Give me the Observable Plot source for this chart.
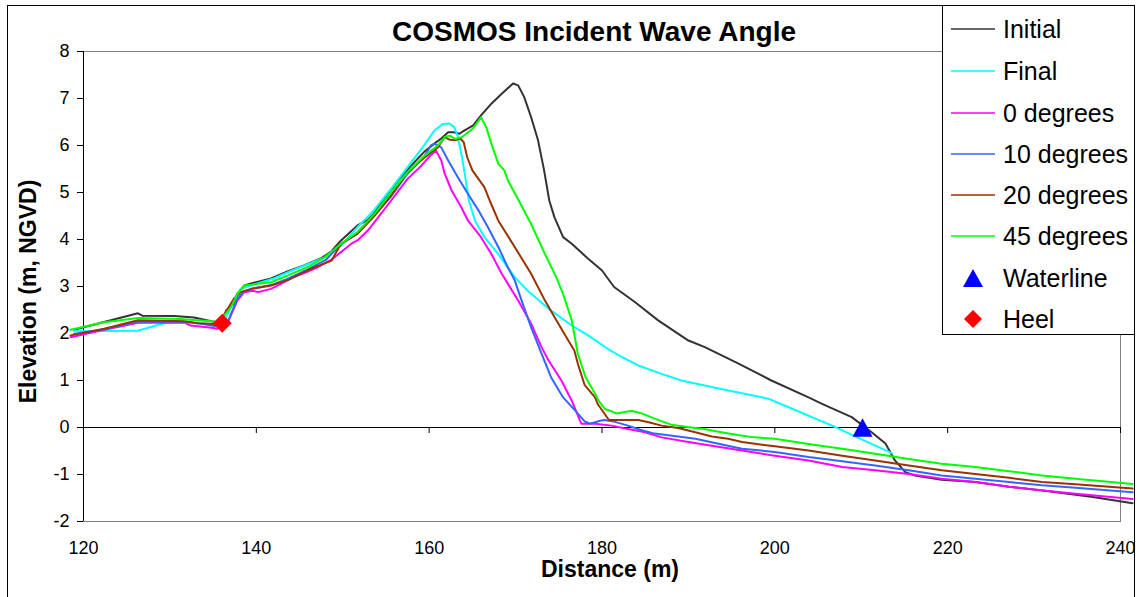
<!DOCTYPE html>
<html><head><meta charset="utf-8">
<script src="https://cdn.jsdelivr.net/npm/d3@7"></script>
<script src="https://cdn.jsdelivr.net/npm/@observablehq/plot@0.6"></script>
<style>
html,body{margin:0;padding:0;background:#fff;overflow:hidden;}
#wrap{position:relative;width:1139px;height:597px;overflow:hidden;font-family:Arial,"Liberation Sans",sans-serif;background:#fff;}
#chart{position:absolute;left:0;top:0;}
#border{position:absolute;left:7px;top:5px;width:1128px;height:700px;border:1px solid #000;box-sizing:border-box;pointer-events:none;}
#legend{position:absolute;left:942px;top:5px;width:193px;height:330px;border:1px solid #000;background:#fff;box-sizing:border-box;}
.item{position:absolute;left:0;height:30px;width:190px;}
.item svg{position:absolute;left:0;top:0;}
.item span{position:absolute;left:60px;top:0;line-height:30px;font-size:25px;color:#000;white-space:nowrap;}
</style>
</head><body>
<div id="wrap"><div id="chart"></div><div id="border"></div><div id="legend"></div></div>
<script>
// ---- data (distance m, elevation m NGVD) ----
const initial = [[118.9,2.08],[126.3,2.43],[126.8,2.38],[130.5,2.37],[132.8,2.34],[134.8,2.26],[136.0,2.23],[136.5,2.49],[137.4,2.64],[137.8,2.85],[138.6,3.02],[139.7,3.08],[141.7,3.17],[143.6,3.32],[145.5,3.45],[147.5,3.6],[148.7,3.75],[149.8,3.98],[151.7,4.30],[152.9,4.42],[153.6,4.55],[154.8,4.87],[156.4,5.26],[157.9,5.57],[159.4,5.86],[160.6,6.04],[161.4,6.15],[162.2,6.28],[162.9,6.28],[163.5,6.25],[164.1,6.32],[165.1,6.43],[166.0,6.64],[167.2,6.89],[168.4,7.10],[169.7,7.32],[170.3,7.28],[171.0,7.03],[171.8,6.60],[172.6,6.11],[173.3,5.47],[173.9,4.83],[174.5,4.47],[175.5,4.05],[176.5,3.91],[178.4,3.59],[180.0,3.34],[181.4,2.99],[183.8,2.67],[186.5,2.28],[190.0,1.85],[191.9,1.71],[195.8,1.36],[199.6,1.00],[203.9,0.64],[205.4,0.51],[208.9,0.22],[211.2,-0.10],[212.8,-0.34],[213.9,-0.70],[215.1,-0.95],[216.2,-1.02],[219.3,-1.11],[223.2,-1.16],[227.1,-1.26],[231.0,-1.34],[236.8,-1.48],[241.4,-1.61]];
const final = [[118.9,2.05],[126.3,2.06],[129.7,2.24],[131.5,2.26],[133.2,2.22],[135.5,2.19],[136.2,2.2],[137.1,2.6],[138.2,2.95],[139.7,3.04],[142.0,3.17],[144.0,3.33],[146.0,3.48],[147.9,3.62],[149.8,3.87],[151.7,4.26],[153.6,4.62],[155.6,5.08],[157.5,5.54],[159.4,6.0],[160.6,6.32],[161.6,6.46],[162.3,6.47],[162.9,6.39],[163.3,6.2],[163.8,5.75],[164.2,5.3],[164.6,4.83],[165.3,4.40],[166.4,4.05],[168.0,3.69],[169.9,3.20],[171.4,2.91],[173.8,2.53],[176.5,2.17],[178.4,1.96],[180.7,1.67],[182.3,1.50],[184.2,1.32],[186.9,1.14],[189.2,1.0],[193.8,0.82],[199.3,0.61],[201.6,0.43],[204.7,0.19],[207.0,0.01],[209.3,-0.19],[212.4,-0.45],[213.6,-0.55]];
const deg0 = [[118.5,1.92],[122.4,2.08],[126.3,2.23],[131.7,2.23],[132.4,2.17],[134.8,2.12],[135.5,2.10],[136.7,2.24],[137.8,2.70],[138.6,2.88],[139.6,2.91],[140.2,2.88],[141.7,2.95],[142.9,3.06],[144.0,3.18],[146.0,3.32],[147.1,3.41],[148.7,3.57],[151.0,3.91],[151.7,3.98],[152.9,4.19],[154.1,4.47],[155.6,4.83],[157.5,5.29],[159.1,5.57],[160.2,5.80],[160.8,5.89],[161.4,5.68],[161.8,5.40],[162.6,5.04],[163.7,4.69],[164.5,4.40],[166.0,4.05],[167.2,3.69],[168.4,3.27],[170.3,2.70],[171.8,2.21],[173.0,1.71],[173.8,1.43],[175.3,1.0],[176.5,0.57],[177.6,0.08],[179.2,0.08],[181.1,0.04],[183.0,-0.03],[185.0,-0.10],[186.9,-0.21],[190.0,-0.31],[193.8,-0.42],[196.2,-0.49],[200.0,-0.60],[203.9,-0.70],[207.8,-0.84],[211.6,-0.91],[215.5,-0.99],[219.3,-1.09],[223.2,-1.16],[227.1,-1.26],[231.0,-1.34],[234.8,-1.41],[241.4,-1.52]];
const deg10 = [[118.9,1.99],[122.4,2.09],[126.3,2.25],[131.7,2.25],[133.5,2.21],[135.5,2.15],[136.7,2.24],[137.8,2.74],[138.6,2.9],[139.7,2.96],[141.7,3.03],[143.6,3.16],[146.0,3.37],[148.0,3.56],[149.8,3.9],[151.7,4.13],[153.6,4.5],[155.6,4.92],[157.5,5.4],[159.4,5.76],[160.2,6.0],[160.6,6.04],[161.4,5.96],[162.2,5.68],[163.3,5.33],[164.5,4.97],[165.7,4.62],[166.8,4.26],[168.0,3.84],[169.1,3.41],[169.9,3.13],[170.7,2.70],[171.8,2.13],[173.0,1.57],[174.1,1.07],[175.5,0.64],[176.8,0.38],[178.0,0.13],[178.6,0.08],[179.9,0.15],[180.3,0.16],[181.5,0.12],[183.0,0.04],[184.6,-0.06],[186.1,-0.13],[188.8,-0.19],[190.8,-0.24],[196.2,-0.45],[200.0,-0.52],[203.9,-0.63],[207.8,-0.72],[211.6,-0.81],[215.5,-0.91],[219.3,-1.02],[223.2,-1.09],[227.1,-1.16],[230.9,-1.23],[234.8,-1.28],[241.4,-1.38]];
const deg20 = [[118.5,1.96],[122.4,2.10],[126.3,2.28],[131.7,2.26],[133.2,2.22],[134.8,2.21],[135.5,2.17],[137.4,2.74],[138.2,2.88],[139.4,2.95],[141.7,3.02],[143.6,3.13],[146.0,3.35],[148.7,3.55],[149.8,3.91],[151.7,4.12],[153.7,4.51],[155.6,4.94],[157.5,5.43],[159.5,5.75],[161.0,5.96],[161.8,6.18],[162.4,6.12],[163.0,6.11],[163.6,6.15],[164.0,6.07],[164.4,5.75],[165.0,5.47],[165.7,5.29],[166.4,5.11],[167.0,4.83],[168.0,4.40],[169.9,3.84],[171.8,3.27],[173.4,2.70],[174.5,2.35],[176.1,1.85],[176.8,1.64],[177.2,1.36],[178.0,0.9],[179.2,0.64],[179.5,0.50],[180.8,0.16],[184.2,0.16],[185.4,0.11],[186.9,0.04],[188.8,-0.01],[190.8,-0.10],[192.7,-0.19],[194.6,-0.24],[196.2,-0.31],[200.0,-0.40],[203.9,-0.49],[207.8,-0.60],[211.6,-0.70],[215.5,-0.81],[219.3,-0.91],[223.2,-0.99],[227.1,-1.07],[230.9,-1.16],[234.8,-1.21],[241.4,-1.30]];
const deg45 = [[118.5,2.08],[122.4,2.24],[126.3,2.33],[131.1,2.31],[133.2,2.28],[134.8,2.26],[135.5,2.22],[137.1,2.56],[137.8,2.84],[138.6,3.02],[139.4,3.04],[141.7,3.09],[143.6,3.23],[146.0,3.42],[147.9,3.62],[149.8,3.91],[151.7,4.16],[153.7,4.55],[155.6,5.01],[157.5,5.43],[159.5,5.79],[161.0,6.00],[161.8,6.18],[162.4,6.21],[163.0,6.14],[163.8,6.18],[165.0,6.35],[166.0,6.60],[166.6,6.39],[167.2,6.04],[168.0,5.61],[168.7,5.47],[169.1,5.26],[170.3,4.85],[171.8,4.33],[173.4,3.69],[174.7,3.20],[175.5,2.84],[176.5,2.28],[177.2,1.57],[178.1,1.07],[179.2,0.72],[179.6,0.57],[180.3,0.40],[181.7,0.30],[182.9,0.34],[183.5,0.35],[184.6,0.30],[186.1,0.19],[188.0,0.06],[189.9,0.01],[191.8,-0.03],[193.8,-0.10],[195.7,-0.16],[197.6,-0.21],[200.0,-0.24],[203.9,-0.35],[207.8,-0.45],[211.6,-0.56],[215.5,-0.67],[219.3,-0.77],[223.2,-0.84],[227.1,-0.93],[230.9,-1.02],[234.8,-1.09],[241.4,-1.20]];
const waterline = [[210.15,0.0]];
const heel = [[136.05,2.22]];
const seriesNames = ["Initial","Final","0 degrees","10 degrees","20 degrees","45 degrees"];
const seriesColors = ["#333333","#00FFFF","#FF00FF","#3366FF","#993300","#00FF00"];
const xTicks = [120,140,160,180,200,220,240];
const yTicks = [-2,-1,0,1,2,3,4,5,6,7,8];
const titleText = "COSMOS Incident Wave Angle";
const xLabel = "Distance (m)";
const yLabel = "Elevation (m, NGVD)";

const FONT = "Arial, 'Liberation Sans', sans-serif";
const seriesData = [initial, final, deg0, deg10, deg20, deg45];
const toRows = (arr, name) => arr.map(([x, y]) => ({series: name, x, y}));

// custom symbols (Excel-like)
const triSym = {draw(ctx, size) { const k = Math.sqrt(size / 187); ctx.moveTo(0, -9.35*k); ctx.lineTo(10*k, 9.35*k); ctx.lineTo(-10*k, 9.35*k); ctx.closePath(); }};
const diaSym = {draw(ctx, size) { const s = Math.sqrt(size / 2); ctx.moveTo(0, -s); ctx.lineTo(s, 0); ctx.lineTo(0, s); ctx.lineTo(-s, 0); ctx.closePath(); }};

const lineMarks = seriesData.map((arr, i) =>
  Plot.line(toRows(arr, seriesNames[i]), {x: "x", y: "y", stroke: seriesColors[i], strokeWidth: 2})
);

const plot = Plot.plot({
  width: 1139, height: 597,
  marginLeft: 83, marginRight: 19, marginTop: 51, marginBottom: 76,
  x: {domain: [120, 240], axis: null, label: null},
  y: {domain: [-2, 8], axis: null, label: null},
  style: {fontFamily: FONT, fontSize: "18px", color: "black", background: "transparent", overflow: "visible"},
  marks: [
    Plot.frame({stroke: "#808080"}),
    Plot.ruleY([0], {stroke: "black"}),
    Plot.ruleX([120], {stroke: "black"}),
    Plot.ruleX(xTicks.slice(1), {x: d => d, y1: 0, y2: -0.128, stroke: "black"}),
    Plot.ruleY(yTicks, {y: d => d, x1: 120, x2: 120 - 6/8.63, stroke: "black"}),
    Plot.text(yTicks, {y: d => d, text: d => String(d), frameAnchor: "left", textAnchor: "end", lineAnchor: "middle", dx: -14, fontSize: 18, fill: "black"}),
    Plot.text(xTicks, {x: d => d, text: d => String(d), frameAnchor: "bottom", textAnchor: "middle", lineAnchor: "middle", dy: 27, fontSize: 18, fill: "black"}),
    ...lineMarks,
    Plot.dot(toRows(waterline, "Waterline"), {x: "x", y: "y", symbol: triSym, r: Math.sqrt(187/Math.PI), fill: "#0000FF", stroke: "none"}),
    Plot.dot(toRows(heel, "Heel"), {x: "x", y: "y", symbol: diaSym, r: Math.sqrt(180.5/Math.PI), fill: "#FF0000", stroke: "none"}),
    Plot.text([titleText], {text: d => d, frameAnchor: "top", textAnchor: "middle", lineAnchor: "middle", dx: -8, dy: -19, fontSize: 28, fontWeight: "bold", fill: "black"}),
    Plot.text([xLabel], {text: d => d, frameAnchor: "bottom", textAnchor: "middle", lineAnchor: "middle", dx: 8, dy: 48, fontSize: 23, fontWeight: "bold", fill: "black"}),
    Plot.text([yLabel], {text: d => d, frameAnchor: "left", textAnchor: "middle", lineAnchor: "middle", rotate: -90, dx: -55, dy: 5, fontSize: 23, fontWeight: "bold", fill: "black"})
  ]
});
document.getElementById("chart").appendChild(plot);

// legend
const legend = document.getElementById("legend");
const centers = [23, 65, 107, 148, 189, 230, 272, 313];
const entries = seriesNames.map((n, i) => ({name: n, type: "line", color: seriesColors[i]}))
  .concat([{name: "Waterline", type: "tri", color: "#0000FF"}, {name: "Heel", type: "dia", color: "#FF0000"}]);
entries.forEach((e, i) => {
  const div = document.createElement("div");
  div.className = "item";
  div.style.top = (centers[i] - 15) + "px";
  let sw;
  if (e.type === "line") sw = `<line x1="8" x2="52" y1="15" y2="15" stroke="${e.color}" stroke-width="1.5"/>`;
  else if (e.type === "tri") sw = `<path d="M30,6 L40,24 L20,24 Z" fill="${e.color}"/>`;
  else sw = `<path d="M30,6 L39,15 L30,24 L21,15 Z" fill="${e.color}"/>`;
  div.innerHTML = `<svg width="58" height="30">${sw}</svg><span>${e.name}</span>`;
  legend.appendChild(div);
});
</script>
</body></html>
